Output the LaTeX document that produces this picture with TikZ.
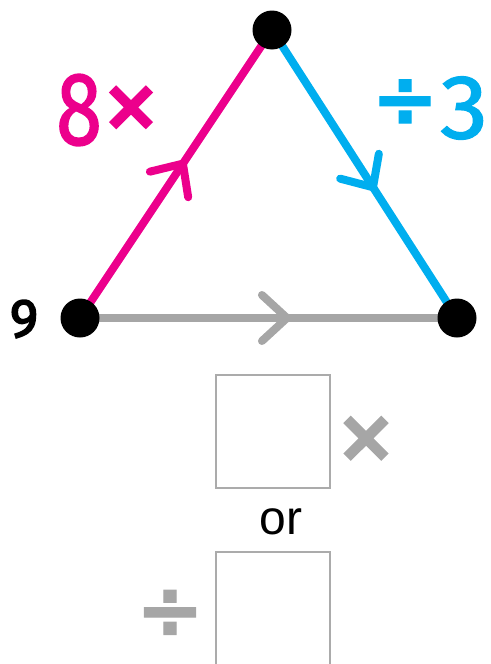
\documentclass[tikz,border=0pt]{standalone}
\usepackage{fontspec}
\setmainfont{Liberation Sans}
\newfontfamily\digitfont[FakeBold=1.5]{Fira Sans}
\newfontfamily\ninefont[FakeBold=3]{Fira Sans}
\newfontfamily\symfont[FakeBold=3]{DejaVu Sans Bold}
\newfontfamily\divfont[FakeBold=1.2]{DejaVu Sans Bold}
\usetikzlibrary{decorations.markings}
\definecolor{pinkc}{HTML}{EC008C}
\definecolor{bluec}{HTML}{00AEEF}
\definecolor{grayc}{HTML}{A6A6A6}
\definecolor{boxgray}{HTML}{ABABAB}
\tikzset{
  edgeline/.style={line width=#1, line cap=round},
  chev/.style n args={2}{postaction={decorate, decoration={markings,
      mark=at position #1 with {\draw[#2, line width=8pt, line cap=round, line join=round]
        (-25pt,23pt) -- (0pt,0pt) -- (-25pt,-23pt);}}}},
  vdot/.style={circle, fill=black, inner sep=0pt, minimum size=39pt},
  ansbox/.style={draw=boxgray, line width=2.4pt},
}
\begin{document}
\begin{tikzpicture}[x=1pt,y=-1pt]
\useasboundingbox (0,0) rectangle (490,664);
\coordinate (A) at (80,318);
\coordinate (B) at (272,30);
\coordinate (C) at (457,318);
% edges
\draw[pinkc, edgeline=8pt, chev={0.536}{pinkc}] (A) -- (B);
\draw[bluec, edgeline=8pt, chev={0.546}{bluec}] (B) -- (C);
\draw[grayc, edgeline=8pt, chev={0.549}{grayc}] (A) -- (C);
% vertices
\node[vdot] (dA) at (A) {};
\node[vdot] (dB) at (B) {};
\node[vdot] (dC) at (C) {};
% labels
\node[text=pinkc, inner sep=0pt, font=\digitfont\fontsize{104}{104}\selectfont, xscale=0.8] (eight) at (79,110) {8};
\node[text=pinkc, inner sep=0pt, font=\symfont\fontsize{70}{70}\selectfont] (times) at (131,108) {×};
\node[text=bluec, inner sep=0pt, font=\divfont\fontsize{80}{80}\selectfont] (divide) at (405,103) {÷};
\node[text=bluec, inner sep=0pt, font=\digitfont\fontsize{91}{91}\selectfont, xscale=1.05] (three) at (464,108) {3};
\node[inner sep=0pt, font=\ninefont\fontsize{54}{54}\selectfont] (nine) at (24,319) {9};
% answer part
\draw[ansbox] (216,375) rectangle (330,488);
\node[text=grayc, inner sep=0pt, font=\symfont\fontsize{72}{72}\selectfont] (gtimes) at (366,439) {×};
\node[inner sep=0pt, font=\fontsize{48}{48}\selectfont] (or) at (281,522) {or};
\draw[ansbox] (216,666) -- (216,552) -- (330,552) -- (330,666);
\node[text=grayc, inner sep=0pt, font=\divfont\fontsize{82}{82}\selectfont] (gdiv) at (170,614) {÷};
\end{tikzpicture}
\end{document}
